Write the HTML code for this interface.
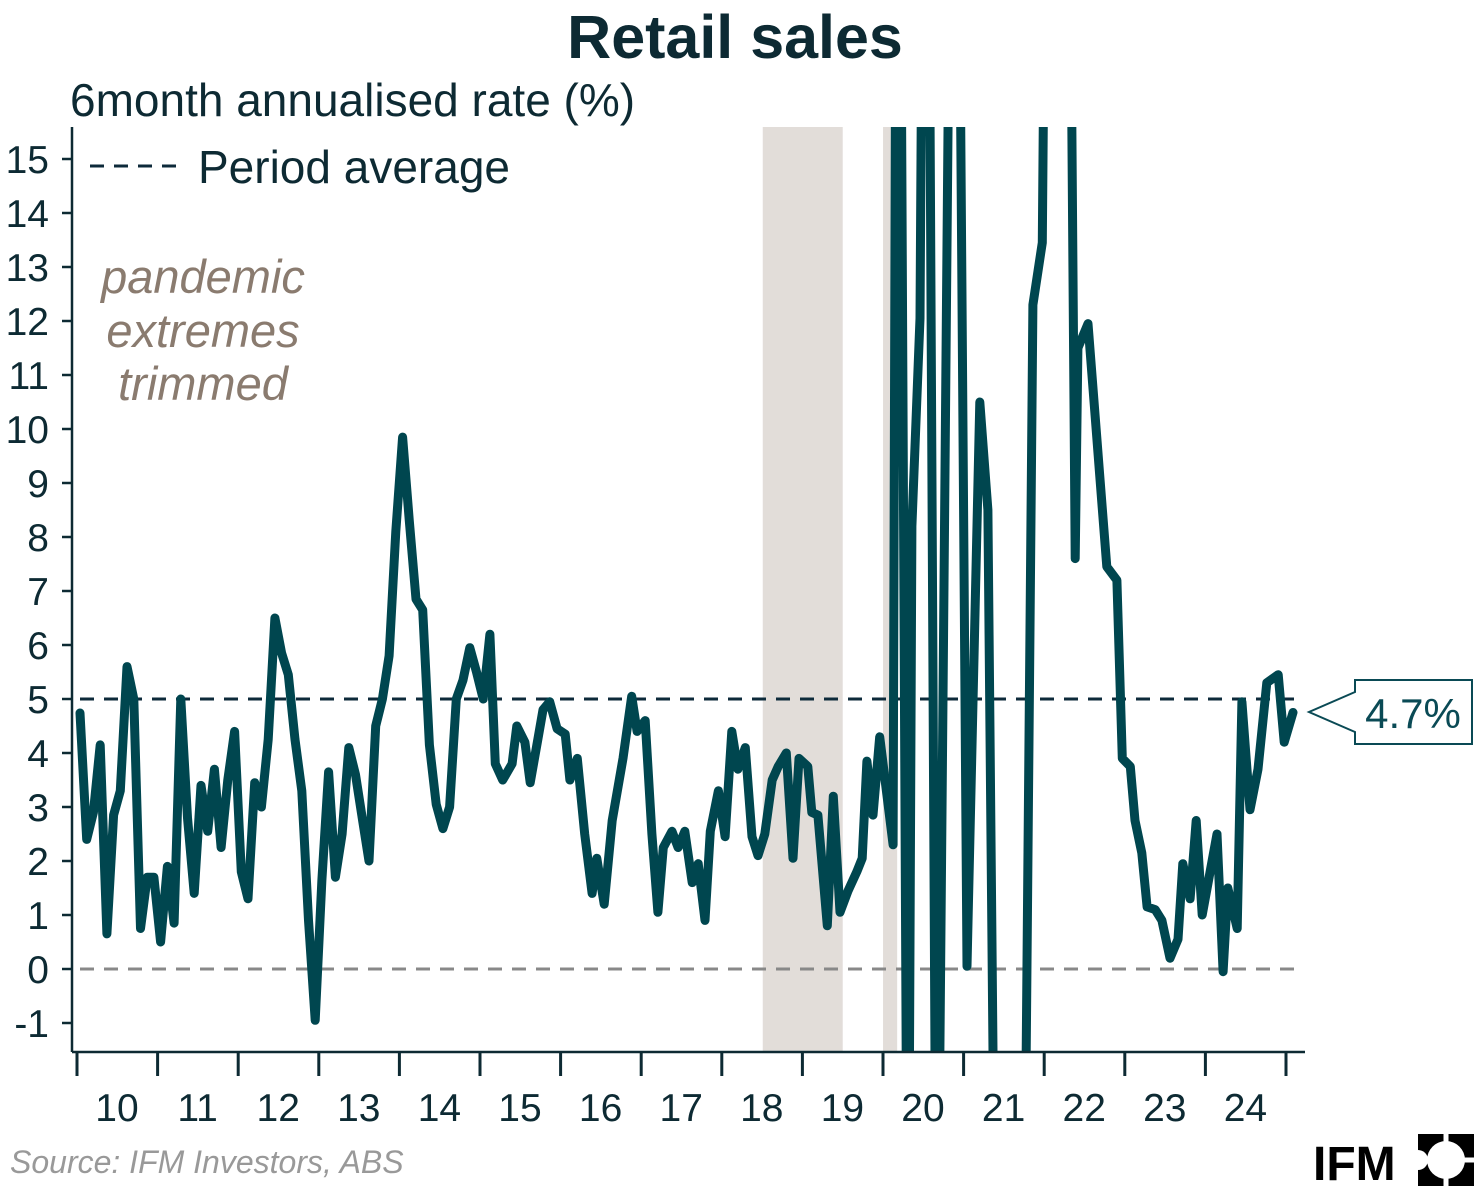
<!DOCTYPE html>
<html><head><meta charset="utf-8"><style>
html,body{margin:0;padding:0;background:#fff;overflow:hidden;width:1475px;height:1188px;}
svg{display:block;font-family:"Liberation Sans",sans-serif;}
</style></head><body>
<svg id="chart" width="1475" height="1188" viewBox="0 0 1475 1188">
<defs><clipPath id="plotclip"><rect x="73" y="127" width="1232" height="925"/></clipPath></defs>
<text x="735" y="58" text-anchor="middle" font-size="61" font-weight="bold" fill="#0d2a33">Retail sales</text>
<text x="70" y="116" font-size="46" fill="#0d2a33">6month annualised rate (%)</text>
<g id="bands"></g>
<g id="grid"></g>
<g id="series" clip-path="url(#plotclip)"></g>
<g id="axes"></g>
<g>
<line x1="90" y1="166" x2="185" y2="166" stroke="#0d2a3a" stroke-width="3" stroke-dasharray="14 10"/>
<text x="198" y="183" font-size="46" fill="#0d2a33">Period average</text>
</g>
<g font-size="47" font-style="italic" fill="#8a7b6f" text-anchor="middle">
<text x="203" y="293">pandemic</text><text x="203" y="347">extremes</text><text x="203" y="400">trimmed</text>
</g>
<g>
<path d="M1355 680 H1472 V744 H1355 V732 L1309 712 L1355 692 Z" fill="#fff" stroke="#0a4a55" stroke-width="2"/>
<text x="1413" y="728" text-anchor="middle" font-size="42" fill="#0a4a55">4.7%</text>
</g>
<text x="10" y="1173" font-size="32" font-style="italic" fill="#999">Source: IFM Investors, ABS</text>
<g>
<text x="1313" y="1180" font-size="48" font-weight="bold" fill="#000">IFM</text>
<rect x="1418" y="1134" width="56" height="52" fill="#000"/>
<line x1="1446" y1="1134" x2="1446" y2="1186" stroke="#fff" stroke-width="5"/>
<line x1="1418" y1="1160" x2="1474" y2="1160" stroke="#fff" stroke-width="5"/>
<circle cx="1446" cy="1160" r="19" fill="#fff"/>
<circle cx="1418" cy="1160" r="10" fill="#fff"/>
<circle cx="1474" cy="1160" r="1" fill="#fff"/>
</g>
</svg>
<script>
const months = [0,1,2,3,4,5,6,7,8,9,10,11,12,13,14,15,16,17,18,19,20,21,22,23,24,25,26,27,28,29,30,31,32,33,34,35,36,37,38,39,40,41,42,43,44,45,46,47,48,49,50,51,52,53,54,55,56,57,58,59,60,61,
61.8,62.9,64.3,65.0,66.2,67.0,68.2,68.9,69.9,71.0,72.2,72.9,74.0,75.1,76.2,76.9,78.0,79.2,80.8,82.1,82.9,84.1,85.1,86.0,86.8,88.1,89.0,90.0,91.1,92.0,93.0,93.8,95.0,96.0,97.0,97.9,99.0,100.0,100.9,101.9,103.0,103.9,105.1,106.1,107.0,108.3,108.9,109.8,111.2,112.1,113.1,114.3,115.6,116.4,117.1,118.0,119.0,121.0,
121.7,123.2,123.8,125.0,125.9,127.5,130.2,132.0,133.9,135.1,136.5,140.2,141.8,143.2,144.3,146.7,148.1,148.5,150.0,151.8,152.8,154.3,155.1,156.3,157.0,158.0,158.8,160.0,161.0,162.2,163.4,164.1,165.2,166.1,167.0,169.2,170.1,170.8,172.2,172.9,174.1,175.3,176.6,178.3,179.2,180.5];
const values = [4.74,2.4,2.9,4.15,0.65,2.85,3.3,5.6,5.0,0.75,1.7,1.7,0.5,1.9,0.85,5.0,2.8,1.4,3.4,2.55,3.7,2.25,3.5,4.4,1.8,1.3,3.45,3.0,4.25,6.5,5.85,5.45,4.25,3.3,0.9,-0.95,1.65,3.65,1.7,2.5,4.1,3.6,2.8,2.0,4.5,5.0,5.8,8.1,9.85,8.3,6.85,6.65,4.15,3.05,2.6,3.0,5.0,5.35,5.95,5.5,5.0,6.2,
3.8,3.5,3.8,4.5,4.2,3.45,4.3,4.8,4.95,4.45,4.35,3.5,3.9,2.5,1.4,2.05,1.2,2.75,3.9,5.05,4.4,4.6,2.5,1.05,2.25,2.55,2.25,2.55,1.6,1.95,0.9,2.55,3.3,2.45,4.4,3.7,4.1,2.45,2.1,2.5,3.5,3.75,4.0,2.05,3.9,3.75,2.9,2.85,0.8,3.2,1.05,1.45,1.8,2.05,3.85,2.85,4.3,2.3,
30,-8,8.2,12.05,30,-8,30,0.05,10.5,8.5,-10,-10,12.3,13.45,30,30,7.6,11.5,11.95,9.05,7.45,7.2,3.9,3.75,2.75,2.15,1.15,1.1,0.9,0.2,0.55,1.95,1.3,2.75,1.0,2.5,-0.05,1.5,0.75,4.95,2.95,3.7,5.3,5.45,4.2,4.75];
const yTicks = [-1,0,1,2,3,4,5,6,7,8,9,10,11,12,13,14,15];
const yearLabels = ["10","11","12","13","14","15","16","17","18","19","20","21","22","23","24"];
const periodAverage = [5];
const bandStarts = [101.6, 119.5];
const bandEnds = [113.5, 121.6];

const NS="http://www.w3.org/2000/svg";
const xM = m => 80 + m*6.72;
const xYear = i => 77 + i*80.6;
const yV = v => 969 - v*54;
function mk(tag, attrs, parent){const e=document.createElementNS(NS,tag);for(const k in attrs)e.setAttribute(k,attrs[k]);parent.appendChild(e);return e;}
const bands=document.getElementById('bands'), grid=document.getElementById('grid'), series=document.getElementById('series'), axes=document.getElementById('axes');

bandStarts.forEach((s,i)=>{
  const r=mk('rect',{x:xM(s),y:127,width:xM(bandEnds[i])-xM(s),height:925,fill:'#e2ddd9'},bands);
  
  
});
const zl=mk('line',{x1:80,x2:1295,y1:yV(0),y2:yV(0),stroke:'#888','stroke-width':3,'stroke-dasharray':'14 10'},grid);


const al=mk('line',{x1:80,x2:1295,y1:yV(periodAverage[0]),y2:yV(periodAverage[0]),stroke:'#0d2a3a','stroke-width':3,'stroke-dasharray':'14 10'},grid);



const pts=months.map((m,i)=>xM(m).toFixed(1)+','+yV(values[i]).toFixed(1)).join(' ');
const pl=mk('polyline',{points:pts,fill:'none',stroke:'#00464f','stroke-width':9,'stroke-linejoin':'round','stroke-linecap':'round'},series);



const ya=mk('line',{x1:72,x2:72,y1:127,y2:1052,stroke:'#0d2a33','stroke-width':2.5},axes);


yTicks.forEach(v=>{
  mk('line',{x1:62,x2:72,y1:yV(v),y2:yV(v),stroke:'#0d2a33','stroke-width':2.5},axes);
  const t=mk('text',{x:49,y:yV(v)+14,'text-anchor':'end','font-size':39,fill:'#0d2a33'},axes);
  t.textContent=v;
  
  
});
const xa=mk('line',{x1:72,x2:1305,y1:1052,y2:1052,stroke:'#0d2a33','stroke-width':2.5},axes);


for(let i=0;i<=yearLabels.length;i++){
  mk('line',{x1:xYear(i),x2:xYear(i),y1:1052,y2:1076,stroke:'#0d2a33','stroke-width':3},axes);
}
yearLabels.forEach((l,i)=>{
  const t=mk('text',{x:xYear(i)+40,y:1121,'text-anchor':'middle','font-size':39,fill:'#0d2a33'},axes);
  t.textContent=l;
  
  
});
</script>
</body></html>
